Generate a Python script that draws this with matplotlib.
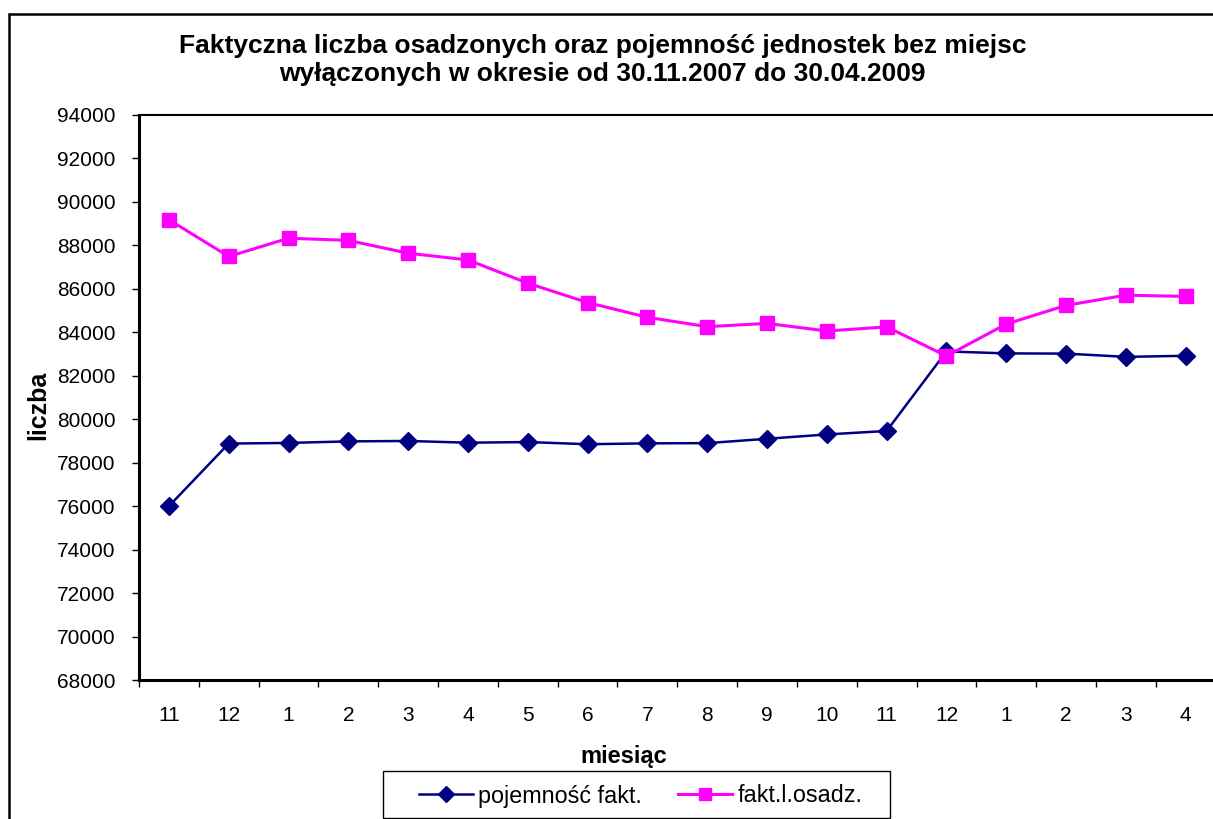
import matplotlib
matplotlib.use("Agg")
import matplotlib.pyplot as plt
from matplotlib.patches import Rectangle

plt.rcParams['font.family'] = ['Liberation Sans', 'DejaVu Sans']

months = ["11", "12", "1", "2", "3", "4", "5", "6", "7", "8", "9", "10", "11", "12", "1", "2", "3", "4"]
pojemnosc = [76000, 78880, 78910, 78980, 79000, 78920, 78950, 78850, 78890,
             78900, 79100, 79300, 79460, 83120, 83030, 83020, 82870, 82920]
osadz = [89180, 87490, 88330, 88230, 87640, 87330, 86260, 85370, 84690,
         84260, 84410, 84060, 84250, 82910, 84380, 85240, 85710, 85650]
yticks = list(range(68000, 94001, 2000))

W, H = 1213, 819
fig = plt.figure(figsize=(W / 100, H / 100), dpi=100)

# outer chart border (extends beyond right/bottom edge)
fig.patches.append(Rectangle((9 / W, -0.05), 1.2, 1 - 14 / H + 0.05, transform=fig.transFigure,
                             fill=False, edgecolor='black', linewidth=1.8, zorder=0))

ax = fig.add_axes([139 / W, 1 - 680 / H, (1215.6 - 139) / W, (680 - 115) / H])
x = list(range(len(months)))
ax.plot(x, pojemnosc, color='#000080', linewidth=1.8, marker='D', markersize=9,
        markerfacecolor='#000080', markeredgecolor='#000080', label='pojemność fakt.', clip_on=False)
ax.plot(x, osadz, color='#FF00FF', linewidth=2.2, marker='s', markersize=10,
        markerfacecolor='#FF00FF', markeredgecolor='#FF00FF', label='fakt.l.osadz.', clip_on=False)

ax.set_xlim(-0.5, len(months) - 0.5)
ax.set_ylim(68000, 94000)
ax.set_yticks(yticks)
ax.set_yticklabels([str(v) for v in yticks], fontsize=15)
ax.set_xticks(x)
ax.set_xticklabels(months, fontsize=15)
ax.set_xticks([i - 0.5 for i in range(len(months) + 1)], minor=True)
ax.tick_params(axis='x', which='major', length=0, pad=19)
ax.tick_params(axis='x', which='minor', length=5, width=1, direction='out')
ax.tick_params(axis='y', length=5, width=1, direction='out', pad=12)
for s in ['left', 'bottom']:
    ax.spines[s].set_linewidth(2.2)
ax.spines['top'].set_linewidth(1.5)
ax.spines['right'].set_linewidth(1.5)

fig.text(624 / W, 1 - 763 / H, 'miesiąc', ha='center', va='baseline',
         fontsize=17, fontweight='bold')
fig.text(38 / W, 1 - 405 / H, 'liczba', ha='center', va='center', rotation=90,
         fontsize=18, fontweight='bold')

fig.text(602.5 / W, 1 - 60 / H,
         'Faktyczna liczba osadzonych oraz pojemność jednostek bez miejsc\n'
         'wyłączonych w okresie od 30.11.2007 do 30.04.2009',
         ha='center', va='center', fontsize=19, fontweight='bold', linespacing=1.22)

# legend box and entries
fig.patches.append(Rectangle((383 / W, 1 - 818 / H), (890 - 383) / W, (818 - 771) / H,
                             transform=fig.transFigure, fill=True, facecolor='white',
                             edgecolor='black', linewidth=1, zorder=5))
leg = fig.legend(loc='center left', bbox_to_anchor=(412 / W, 1 - 796 / H), ncol=2,
                 fontsize=16.8, frameon=False, markerscale=0.85,
                 handlelength=2.3, columnspacing=1.55, handletextpad=0.25, borderpad=0.3,
                 borderaxespad=0)
leg.set_zorder(6)

fig.savefig('out.png', dpi=100)
